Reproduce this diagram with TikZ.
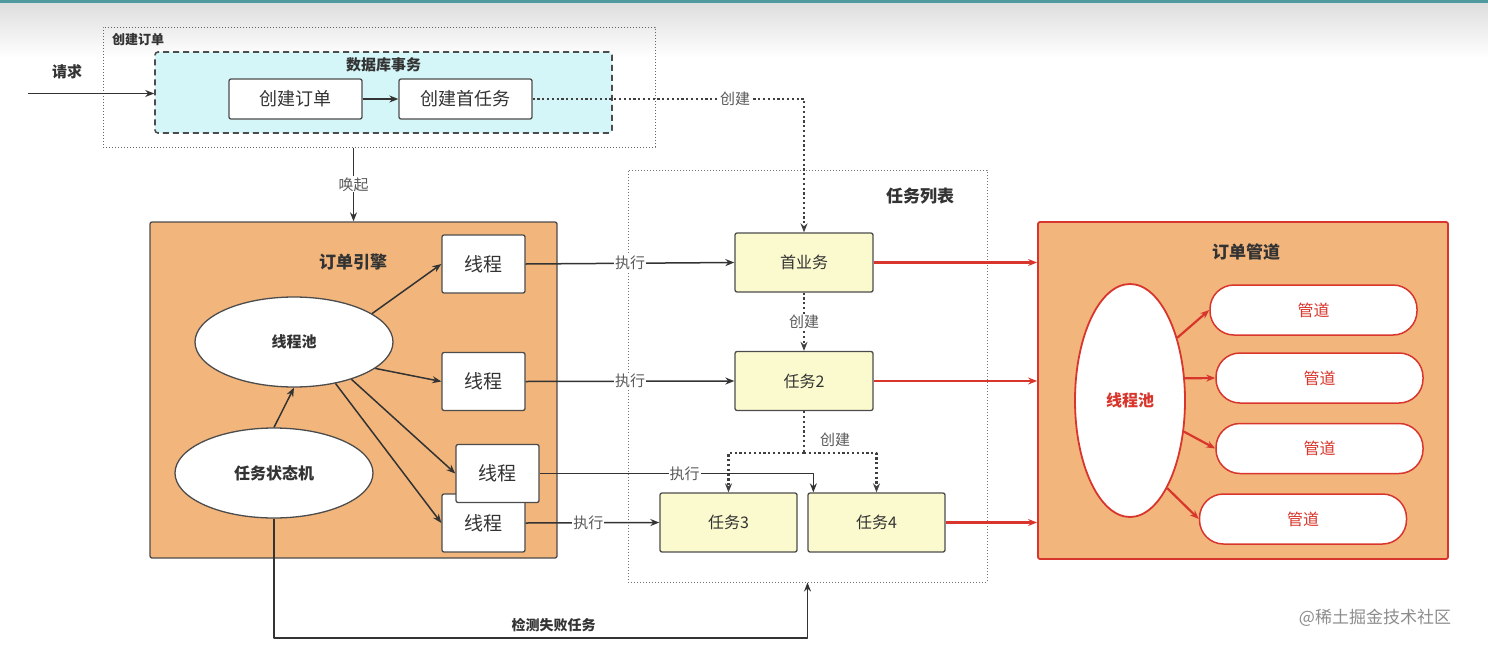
\documentclass[tikz,border=0pt]{standalone}
\usepackage{fontspec}
\setmainfont{Noto Sans CJK SC}
\usetikzlibrary{shapes.geometric,positioning,arrows.meta}
\definecolor{engfill}{HTML}{F2B57C}
\definecolor{dbfill}{HTML}{D4F6F8}
\definecolor{taskfill}{HTML}{FBF9CE}
\definecolor{pipered}{HTML}{D8362C}
\definecolor{ink}{HTML}{333333}
\definecolor{bar}{HTML}{4E9A9E}
\begin{document}
\begin{tikzpicture}[x=1pt, y=-1pt, line join=round, >={Stealth[length=9pt,width=7pt]}, text=ink,
	fs/.style={font=\fontsize{#1}{#1}\selectfont},
	title/.style={font=\bfseries\fontsize{#1}{#1}\selectfont},
	box/.style={draw=black!70, line width=1.3pt, rounded corners=2pt, fill=white, inner sep=0pt},
	thread/.style={box, minimum width=83pt, minimum height=58pt, fs=19},
	task/.style={box, fill=taskfill, minimum width=138pt, minimum height=59pt, fs=16},
	pool/.style={ellipse, draw=black!70, line width=1.3pt, fill=white, inner sep=0pt},
	pipe/.style={draw=pipered, line width=1.5pt, rounded corners=24pt, fill=white, text=pipered, minimum width=207pt, minimum height=50pt, inner sep=0pt, fs=16},
	flow/.style={->, line width=1.5pt, draw=black!80},
	create/.style={->, line width=2.4pt, draw=black!75, dash pattern=on 2.2pt off 2.6pt},
	lab/.style={fill=white, inner sep=1pt, fs=15, text=black!65},
	redflow/.style={->, line width=2.2pt, draw=pipered}]
	\useasboundingbox (0,0) rectangle (1488,648);
	\shade[top color=black!13, bottom color=white] (0,3) rectangle (1488,58);
	\fill[bar] (0,0) rectangle (1488,3);
	% containers
	\node[draw=black!60, dotted, line width=1pt, minimum width=552pt, minimum height=120pt] (order) at (379,87) {};
	\node[title=13, anchor=north west] at ([shift={(6,3)}]order.north west) {创建订单};
	\node[draw=black!70, line width=1.6pt, dash pattern=on 6pt off 4pt, fill=dbfill, rounded corners=3pt, minimum width=457pt, minimum height=81pt] (db) at (383.5,92.5) {};
	\node[title=15] at (383.5,65) {数据库事务};
	\node[box, minimum width=133pt, minimum height=40pt, fs=18] (o1) at (295.5,99) {创建订单};
	\node[box, minimum width=133pt, minimum height=40pt, fs=18] (o2) at (465.5,99) {创建首任务};
	\node[draw=black!70, line width=1.3pt, fill=engfill, rounded corners=2pt, minimum width=407pt, minimum height=336pt] (engine) at (353.5,390) {};
	\node[title=17] at (353,262) {订单引擎};
	\node[draw=black!55, dotted, line width=1pt, minimum width=359pt, minimum height=412pt] (list) at (807.5,376) {};
	\node[title=17] at (920,196) {任务列表};
	\node[draw=pipered, line width=1.8pt, fill=engfill, rounded corners=2pt, minimum width=410pt, minimum height=337pt] (pbox) at (1243,390.5) {};
	\node[title=17] at (1246,252) {订单管道};
	% order engine
	\node[pool, minimum width=198pt, minimum height=90pt, title=15] (tp) at (294,342) {线程池};
	\node[pool, minimum width=198pt, minimum height=90pt, title=16] (fsm) at (274,473) {任务状态机};
	\node[thread] (t1) at (483.5,264) {线程};
	\node[thread] (t2) at (483.5,381.5) {线程};
	\node[thread] (t4) at (483.5,523) {线程};
	\node[thread] (t3) at (497.5,473.5) {线程};
	% tasks
	\node[task] (biz) at (804,262.5) {首业务};
	\node[task] (tk2) at (804,381) {任务2};
	\node[task, minimum width=137pt] (tk3) at (728.5,522.5) {任务3};
	\node[task, minimum width=137pt] (tk4) at (876.5,522.5) {任务4};
	% pipes
	\node[pool, draw=pipered, line width=1.8pt, text=pipered, minimum width=110pt, minimum height=233pt, title=16] (rp) at (1130,400.5) {线程池};
	\node[pipe] (p1) at (1313.5,310) {管道};
	\node[pipe] (p2) at (1319.5,378) {管道};
	\node[pipe] (p3) at (1319.5,448.5) {管道};
	\node[pipe] (p4) at (1303,519) {管道};
	% connectors
	\coordinate (req) at (28,93.5);
	\node[title=15] at (67,72) {请求};
	\draw[flow] (req) -- (db.west |- req);
	\draw[flow] (o1) -- (o2);
	\draw[create] (o2.east) -| (biz.north) node[lab, pos=.373] {创建};
	\draw[flow] (order.south -| engine.north) -- (engine.north) node[lab, midway] {唤起};
	\draw[flow] (fsm.north) -- (tp.south);
	\foreach \a/\t in {20/t1,-18/t2,-33/t3,-45/t4}
		\draw[flow] (tp.\a) -- (\t.west);
	\draw[flow] (t1.east) -- (biz.west) node[lab, pos=.5] {执行};
	\draw[flow] (t2.east) -- (tk2.west) node[lab, pos=.5] {执行};
	\draw[flow] (t3.east) -| ([xshift=6pt]tk4.north west) node[lab, pos=.265] {执行};
	\draw[flow] (t4.east) -- (tk3.west) node[lab, pos=.47] {执行};
	\draw[create] (biz) -- (tk2) node[lab, midway] {创建};
	\draw[create, -] (tk2.south) -- ++(0,42) coordinate (split) node[lab, pos=.68, right=14pt, fill=none] {创建};
	\draw[create] (split) -| (tk3.north);
	\draw[create] (split) -| (tk4.north);
	\draw[redflow] (biz.east) -- (biz.east -| pbox.west);
	\draw[redflow] (tk2.east) -- (tk2.east -| pbox.west);
	\draw[redflow] (tk4.east) -- (tk4.east -| pbox.west);
	\foreach \a/\p in {53/p1,22/p2,-30/p3,-67/p4}
		\draw[redflow] (rp.\a) -- (\p.west);
	\coordinate (fail) at (274,638);
	\draw[flow] (fsm.south) -- (fail) -| (list.south) node[pos=.262, above=2pt, title=14] {检测失败任务};
	\node[fs=17, text=black!45] (mark) at (1375,618) {@稀土掘金技术社区};
\end{tikzpicture}
\end{document}
